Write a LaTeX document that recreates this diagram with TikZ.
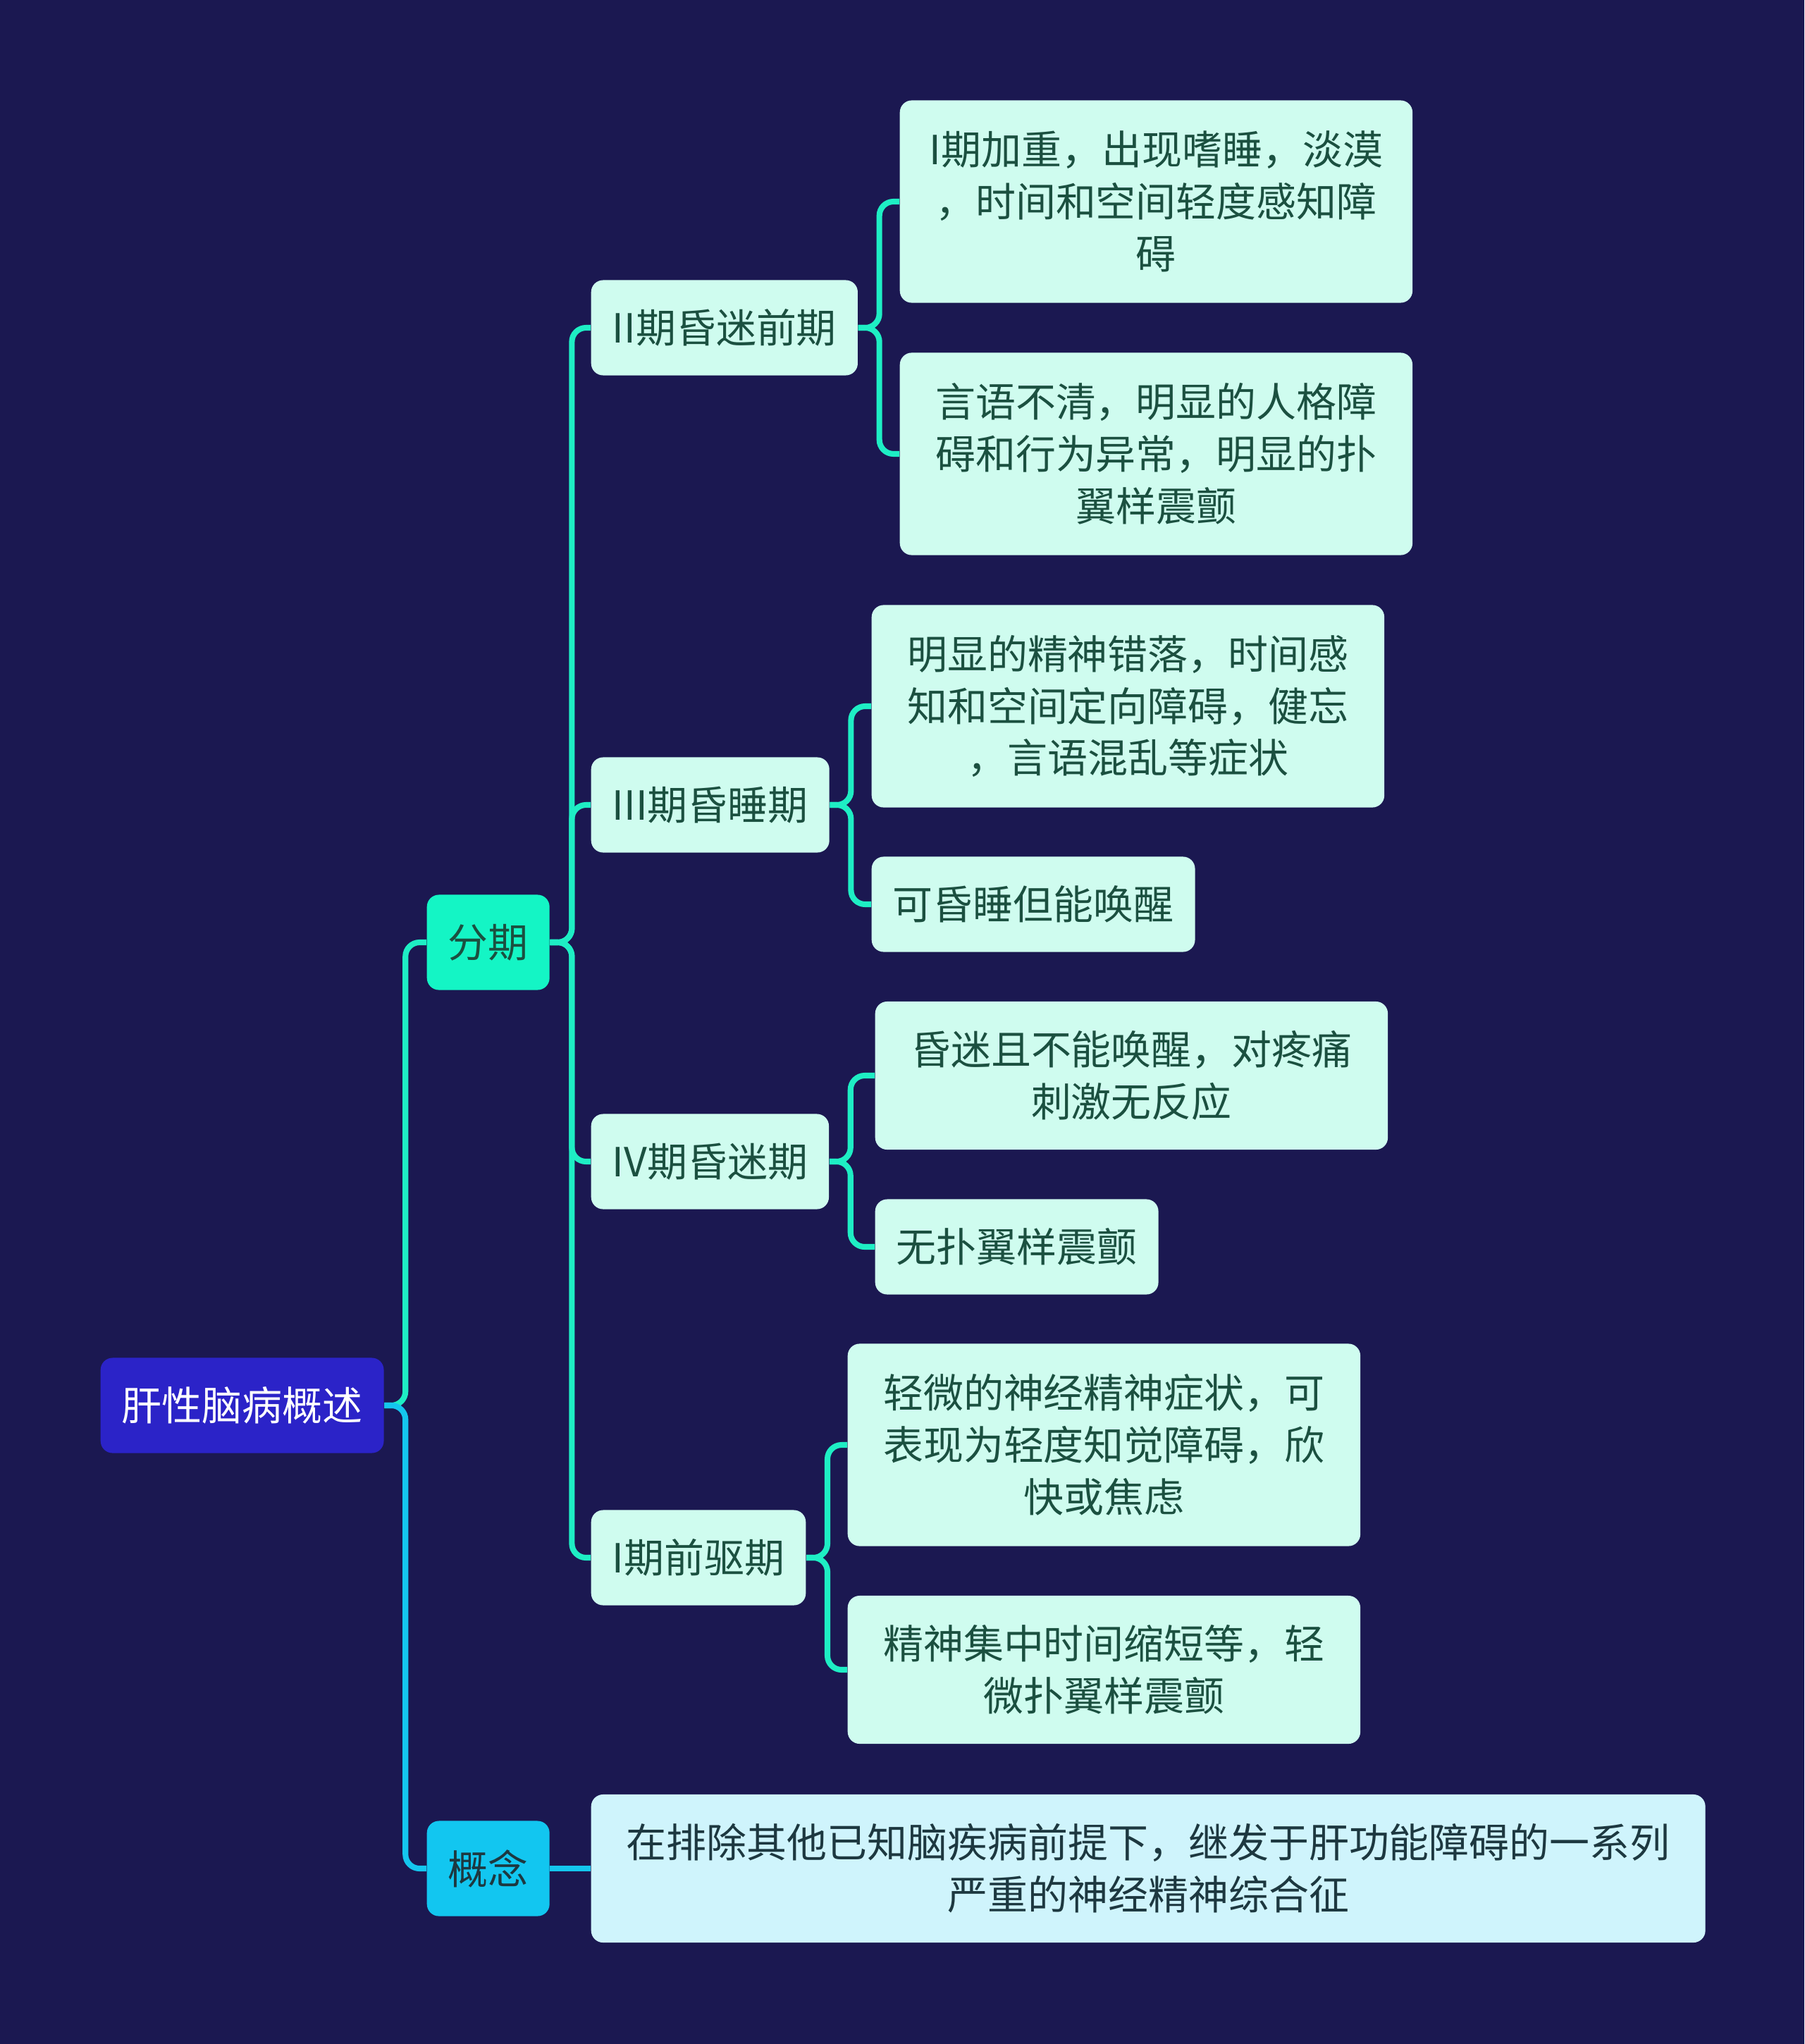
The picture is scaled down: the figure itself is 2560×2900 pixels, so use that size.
\documentclass[tikz,border=0pt]{standalone}
\usepackage{fontspec}
\setmainfont{Noto Sans CJK SC}
\usetikzlibrary{positioning, calc}
\definecolor{NavyBg}{HTML}{1B1851}
\definecolor{RootBlue}{HTML}{2B23C8}
\definecolor{Aqua}{HTML}{14F5C5}
\definecolor{Cyan}{HTML}{12C6F0}
\definecolor{MintSoft}{HTML}{CFFCEF}
\definecolor{CyanSoft}{HTML}{CFF4FC}
\definecolor{LineGreen}{HTML}{1EEEC4}
\definecolor{LineCyan}{HTML}{14C6EE}
\definecolor{TxtGreen}{HTML}{1B5040}
\definecolor{TxtDark}{HTML}{1D3840}

\begin{document}
\begin{tikzpicture}[x=0.01cm, y=-0.01cm,
    box/.style={rounded corners=0.17cm, align=center, anchor=west,
                inner xsep=0.3cm, inner ysep=0pt, minimum height=1.35cm,
                font=\fontsize{16.2pt}{21pt}\selectfont},
    rootbox/.style={box, fill=RootBlue, text=white},
    fenbox/.style={box, fill=Aqua, text=TxtGreen},
    gaibox/.style={box, fill=Cyan, text=TxtDark},
    leafbox/.style={box, fill=MintSoft, text=TxtGreen},
    defbox/.style={box, fill=CyanSoft, text=TxtDark, minimum width=15.8cm},
    wide/.style={minimum width=7.27cm},
    two/.style={minimum height=2.1cm},
    three/.style={minimum height=2.87cm},
    link/.style={line width=2.3pt, rounded corners=0.2cm, draw=LineGreen},
    linkc/.style={link, draw=LineCyan}]

  % background
  \fill[NavyBg] (0,0) rectangle (2560,2900);

  % root and first level
  \node[rootbox] (root) at (142,1994) {肝性脑病概述};
  \node[fenbox] (fen) at (605,1337) {分期};
  \node[gaibox] (gai) at (605,2651) {概念};

  % stages
  \node[leafbox] (s2) at (838,465) {II期昏迷前期};
  \node[leafbox] (s3) at (838,1142) {III期昏睡期};
  \node[leafbox] (s4) at (838,1648) {IV期昏迷期};
  \node[leafbox] (s1) at (838,2210) {I期前驱期};

  % details
  \node[leafbox, wide, three] (a1) at (1276,286) {I期加重，出现嗜睡，淡漠\\，时间和空间轻度感知障\\碍};
  \node[leafbox, wide, three] (a2) at (1276,644) {言语不清，明显的人格障\\碍和行为异常，明显的扑\\翼样震颤};
  \node[leafbox, wide, three] (b1) at (1236,1002) {明显的精神错落，时间感\\知和空间定向障碍，健忘\\，言语混乱等症状};
  \node[leafbox] (b2) at (1236,1283) {可昏睡但能唤醒};
  \node[leafbox, wide, two] (c1) at (1241,1526) {昏迷且不能唤醒，对疼痛\\刺激无反应};
  \node[leafbox] (c2) at (1241,1769) {无扑翼样震颤};
  \node[leafbox, wide, three] (d1) at (1202,2050) {轻微的神经精神症状，可\\表现为轻度知觉障碍，欣\\快或焦虑};
  \node[leafbox, wide, two] (d2) at (1202,2369) {精神集中时间缩短等，轻\\微扑翼样震颤};
  \node[defbox, two] (def) at (838,2651) {在排除其他已知脑疾病前提下，继发于肝功能障碍的一系列\\严重的神经精神综合征};

  % connectors
  \draw[link] (root.east) -- ++(30,0) |- (fen.west);
  \draw[linkc] (root.east) -- ++(30,0) |- (gai.west);
  \foreach \s in {s2,s3,s4,s1}
    \draw[link] (fen.east) -- ++(31,0) |- (\s.west);
  \draw[link] (s2.east) -- ++(30,0) |- (a1.west);
  \draw[link] (s2.east) -- ++(30,0) |- (a2.west);
  \draw[link] (s3.east) -- ++(30,0) |- (b1.west);
  \draw[link] (s3.east) -- ++(30,0) |- (b2.west);
  \draw[link] (s4.east) -- ++(30,0) |- (c1.west);
  \draw[link] (s4.east) -- ++(30,0) |- (c2.west);
  \draw[link] (s1.east) -- ++(30,0) |- (d1.west);
  \draw[link] (s1.east) -- ++(30,0) |- (d2.west);
  \draw[linkc] (gai.east) -- (def.west);
\end{tikzpicture}
\end{document}
